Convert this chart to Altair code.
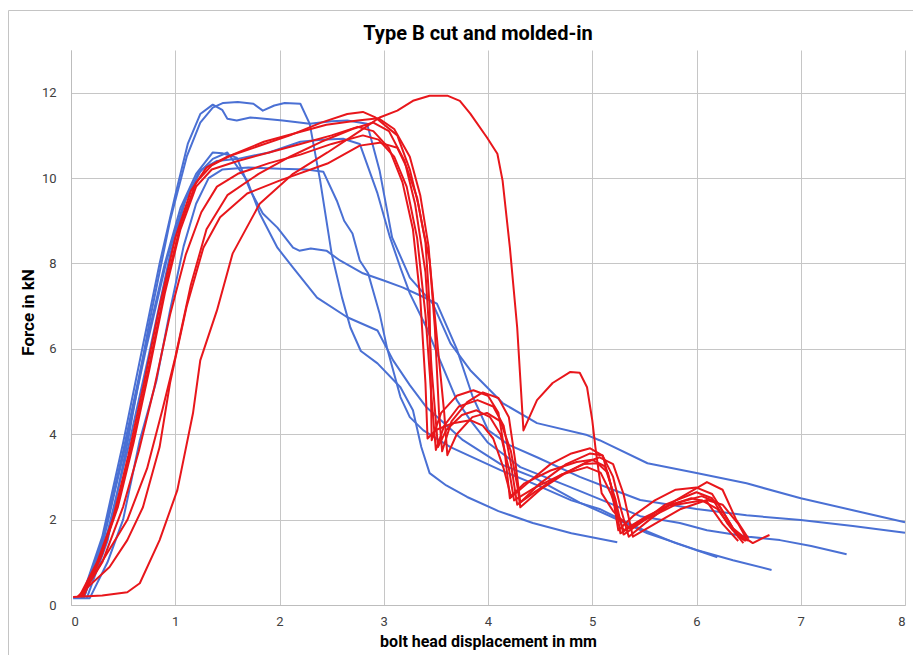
import altair as alt
import pandas as pd

# ---------------- data ----------------
# blue curves
ba_x = [0.10, 0.30, 0.50, 0.70, 0.85, 1.00, 1.12, 1.24, 1.36, 1.45, 1.50, 1.59, 1.72, 2.03, 2.29, 2.50, 2.65, 2.84, 2.96, 3.08, 3.25, 3.47, 3.64, 3.83, 4.14, 4.47, 4.95, 5.07, 5.53, 6.00, 6.48, 7.00, 7.50, 8.00]
ba_y = [0.15, 1.60, 3.80, 6.20, 8.00, 9.60, 10.80, 11.50, 11.72, 11.60, 11.39, 11.35, 11.42, 11.35, 11.27, 11.33, 11.35, 11.27, 10.18, 8.61, 7.67, 7.06, 6.13, 5.50, 4.73, 4.26, 3.98, 3.86, 3.32, 3.09, 2.85, 2.50, 2.22, 1.94]

bd_x = [0.12, 0.35, 0.55, 0.75, 0.95, 1.10, 1.25, 1.40, 1.60, 1.90, 2.20, 2.40, 2.61, 2.77, 2.94, 3.06, 3.16, 3.25, 3.41, 3.54, 3.70, 3.83, 4.00, 4.31, 4.79, 5.20, 5.46, 5.84, 6.10, 6.50, 6.80, 7.10, 7.44]
bd_y = [0.15, 1.70, 3.70, 5.90, 8.20, 9.50, 10.20, 10.40, 10.45, 10.60, 10.85, 10.90, 10.92, 10.80, 9.64, 8.61, 7.90, 7.30, 6.50, 5.73, 4.80, 4.33, 3.80, 3.23, 2.76, 2.35, 2.08, 1.92, 1.75, 1.60, 1.52, 1.38, 1.19]

bw_x = [0.10, 0.30, 0.50, 0.70, 0.90, 1.05, 1.20, 1.36, 1.45, 1.59, 1.72, 1.84, 1.98, 2.13, 2.19, 2.30, 2.45, 2.58, 2.80, 3.00, 3.18, 3.35, 3.51, 3.70, 3.85, 4.00, 4.20, 4.47, 4.88, 5.20, 5.46, 6.00, 6.48, 7.00, 7.50, 8.00]
bw_y = [0.15, 1.50, 3.60, 5.90, 8.00, 9.30, 10.10, 10.60, 10.58, 10.48, 9.71, 9.17, 8.84, 8.37, 8.30, 8.35, 8.30, 8.07, 7.77, 7.60, 7.44, 7.25, 7.06, 6.00, 4.90, 4.10, 3.75, 3.46, 3.00, 2.70, 2.46, 2.25, 2.10, 1.99, 1.85, 1.69]

bf_x = [0.12, 0.32, 0.52, 0.72, 0.92, 1.08, 1.22, 1.36, 1.50, 1.69, 1.81, 1.98, 2.13, 2.36, 2.65, 2.94, 3.09, 3.25, 3.41, 3.76, 4.12, 4.43, 4.88, 5.20, 5.53, 6.00, 6.35, 6.72]
bf_y = [0.15, 1.60, 3.70, 6.00, 8.10, 9.40, 10.10, 10.45, 10.60, 9.94, 9.17, 8.37, 7.90, 7.20, 6.74, 6.43, 5.73, 5.15, 4.63, 3.86, 3.30, 3.00, 2.40, 2.05, 1.68, 1.29, 1.05, 0.82]

bc_x = [0.02, 0.18, 0.35, 0.50, 0.66, 0.82, 0.95, 1.08, 1.20, 1.32, 1.45, 1.70, 2.00, 2.26, 2.42, 2.55, 2.62, 2.70, 2.77, 2.85, 2.96, 3.03, 3.16, 3.25, 3.38, 3.64, 4.12, 4.43, 4.80, 5.07, 5.40, 5.80, 6.20]
bc_y = [0.16, 0.16, 1.00, 2.00, 3.86, 5.26, 6.90, 8.40, 9.40, 10.00, 10.20, 10.25, 10.22, 10.20, 10.15, 9.47, 9.00, 8.70, 8.07, 7.77, 6.83, 6.04, 4.87, 4.40, 4.09, 3.70, 3.16, 2.85, 2.45, 2.25, 1.85, 1.45, 1.12]

bb_x = [0.15, 0.35, 0.55, 0.75, 0.95, 1.11, 1.24, 1.36, 1.46, 1.60, 1.75, 1.84, 1.95, 2.05, 2.20, 2.29, 2.39, 2.50, 2.60, 2.68, 2.78, 2.94, 3.16, 3.28, 3.36, 3.44, 3.60, 3.80, 4.10, 4.43, 4.80, 5.24]
bb_y = [0.15, 1.50, 3.90, 6.60, 9.00, 10.50, 11.30, 11.65, 11.76, 11.78, 11.74, 11.58, 11.70, 11.76, 11.74, 11.27, 9.94, 8.23, 7.20, 6.50, 5.95, 5.66, 5.10, 4.56, 3.70, 3.09, 2.80, 2.53, 2.20, 1.92, 1.68, 1.47]

# red curves
r1_x = [0.08, 0.25, 0.40, 0.55, 0.70, 0.85, 1.00, 1.15, 1.30, 1.50, 1.80, 2.10, 2.40, 2.65, 2.80, 2.92, 3.13, 3.25, 3.33, 3.40, 3.44, 3.46, 3.55, 3.70, 3.86, 4.00, 4.10, 4.16, 4.21, 4.40, 4.60, 4.80, 4.98, 5.10, 5.18, 5.25, 5.40, 5.60, 5.80, 6.00, 6.15, 6.30, 6.40, 6.47]
r1_y = [0.20, 1.00, 2.00, 3.50, 5.20, 7.00, 8.60, 9.70, 10.25, 10.50, 10.75, 11.00, 11.30, 11.50, 11.55, 11.42, 11.00, 10.20, 9.40, 8.50, 7.00, 3.86, 4.50, 4.90, 5.03, 4.90, 4.50, 3.60, 2.50, 2.90, 3.30, 3.55, 3.67, 3.50, 2.80, 1.75, 2.10, 2.45, 2.70, 2.75, 2.60, 2.00, 1.60, 1.50]

r2_x = [0.06, 0.37, 0.54, 0.69, 0.85, 0.95, 1.11, 1.27, 1.43, 1.69, 2.00, 2.46, 2.77, 2.96, 3.13, 3.22, 3.32, 3.38, 3.44, 3.52, 3.58, 3.61, 3.70, 3.85, 3.99, 4.12, 4.22, 4.28, 4.31, 4.50, 4.75, 4.95, 5.07, 5.20, 5.30, 5.39, 5.60, 5.85, 6.10, 6.25, 6.40, 6.48, 6.54, 6.62, 6.70]
r2_y = [0.19, 0.89, 1.52, 2.29, 3.70, 5.20, 7.00, 8.37, 9.08, 9.64, 9.94, 10.34, 10.76, 10.83, 10.71, 10.25, 9.54, 8.77, 8.07, 6.00, 4.50, 3.51, 4.00, 4.40, 4.50, 4.30, 3.60, 2.80, 2.29, 2.70, 3.10, 3.35, 3.46, 3.30, 2.60, 1.60, 1.90, 2.25, 2.46, 2.35, 1.90, 1.55, 1.45, 1.55, 1.64]

r3_x = [0.15, 0.54, 0.73, 0.88, 1.00, 1.15, 1.30, 1.50, 1.80, 2.10, 2.40, 2.70, 2.90, 3.05, 3.20, 3.30, 3.40, 3.46, 3.52, 3.60, 3.75, 3.89, 4.02, 4.12, 4.20, 4.25, 4.45, 4.70, 4.95, 5.08, 5.18, 5.30, 5.50, 5.75, 6.05, 6.20, 6.35, 6.50]
r3_y = [0.42, 1.99, 3.20, 4.60, 5.80, 7.50, 8.80, 9.60, 10.10, 10.50, 10.85, 11.15, 11.30, 11.10, 10.40, 9.40, 7.80, 5.50, 3.70, 4.10, 4.45, 4.56, 4.40, 4.00, 3.20, 2.45, 2.75, 3.05, 3.23, 3.10, 2.60, 1.75, 2.05, 2.35, 2.55, 2.40, 1.80, 1.50]

r4_x = [0.10, 0.28, 0.45, 0.60, 0.75, 0.90, 1.05, 1.20, 1.35, 1.60, 1.90, 2.20, 2.50, 2.75, 2.90, 3.05, 3.18, 3.28, 3.35, 3.40, 3.42, 3.50, 3.65, 3.83, 3.95, 4.05, 4.15, 4.22, 4.35, 4.60, 4.85, 5.00, 5.12, 5.22, 5.30, 5.45, 5.70, 6.00, 6.15, 6.30, 6.45]
r4_y = [0.20, 1.10, 2.30, 3.80, 5.50, 7.30, 8.80, 9.80, 10.20, 10.40, 10.60, 10.80, 11.00, 11.20, 11.10, 10.70, 9.90, 8.80, 7.20, 5.20, 3.90, 4.10, 4.25, 4.33, 4.20, 3.90, 3.20, 2.55, 2.85, 3.15, 3.35, 3.40, 3.25, 2.50, 1.65, 1.90, 2.35, 2.64, 2.50, 1.90, 1.45]

r5_x = [0.10, 0.30, 0.50, 0.65, 0.80, 0.95, 1.10, 1.25, 1.40, 1.60, 1.90, 2.20, 2.50, 2.80, 2.95, 3.10, 3.22, 3.32, 3.40, 3.46, 3.50, 3.58, 3.72, 3.90, 4.05, 4.15, 4.22, 4.28, 4.45, 4.70, 4.92, 5.05, 5.15, 5.22, 5.27, 5.45, 5.70, 5.95, 6.10, 6.25, 6.40]
r5_y = [0.20, 1.00, 2.30, 3.60, 5.10, 6.80, 8.20, 9.20, 9.80, 10.10, 10.35, 10.55, 10.80, 11.00, 10.90, 10.50, 9.80, 8.60, 6.80, 4.80, 3.63, 4.20, 4.65, 4.80, 4.65, 4.20, 3.30, 2.35, 2.65, 3.05, 3.30, 3.32, 3.10, 2.40, 1.68, 1.95, 2.30, 2.50, 2.42, 1.90, 1.50]

r6_x = [0.12, 0.30, 0.45, 0.60, 0.75, 0.90, 1.05, 1.20, 1.35, 1.55, 1.85, 2.15, 2.45, 2.75, 2.95, 3.10, 3.25, 3.35, 3.43, 3.49, 3.53, 3.56, 3.65, 3.80, 3.95, 4.10, 4.20, 4.26, 4.31, 4.50, 4.75, 4.98, 5.10, 5.20, 5.28, 5.35, 5.55, 5.80, 6.10, 6.25, 6.38, 6.50]
r6_y = [0.20, 1.20, 2.40, 3.90, 5.60, 7.40, 8.90, 9.90, 10.30, 10.55, 10.85, 11.05, 11.25, 11.35, 11.40, 11.15, 10.50, 9.60, 8.40, 6.50, 4.50, 3.60, 4.30, 4.75, 4.98, 4.85, 4.40, 3.40, 2.40, 2.85, 3.30, 3.55, 3.50, 3.00, 2.20, 1.60, 2.00, 2.45, 2.88, 2.70, 2.00, 1.55]

rl_x = [0.02, 0.30, 0.54, 0.66, 0.85, 1.02, 1.17, 1.24, 1.40, 1.55, 1.81, 2.13, 2.46, 2.77, 2.96, 3.13, 3.28, 3.44, 3.61, 3.73, 3.83, 3.99, 4.09, 4.14, 4.21, 4.28, 4.34, 4.47, 4.62, 4.79, 4.88, 4.95, 5.00, 5.03, 5.09, 5.20, 5.36, 5.55, 5.80, 6.05, 6.20, 6.35, 6.48]
rl_y = [0.19, 0.22, 0.30, 0.51, 1.52, 2.69, 4.49, 5.73, 6.90, 8.23, 9.40, 10.10, 10.60, 11.10, 11.42, 11.58, 11.81, 11.93, 11.93, 11.81, 11.51, 10.95, 10.57, 9.94, 8.37, 6.50, 4.09, 4.80, 5.20, 5.46, 5.44, 5.10, 4.33, 3.70, 2.62, 2.20, 1.80, 2.05, 2.35, 2.45, 2.25, 1.75, 1.50]

blue_curves = {"b1": (ba_x, ba_y), "b2": (bd_x, bd_y), "b3": (bw_x, bw_y),
               "b4": (bf_x, bf_y), "b5": (bc_x, bc_y), "b6": (bb_x, bb_y)}
red_curves = {"r1": (r1_x, r1_y), "r2": (r2_x, r2_y), "r3": (r3_x, r3_y),
              "r4": (r4_x, r4_y), "r5": (r5_x, r5_y), "r6": (r6_x, r6_y),
              "r7": (rl_x, rl_y)}

x_ticks = [0, 1, 2, 3, 4, 5, 6, 7, 8]
y_ticks = [0, 2, 4, 6, 8, 10, 12]


def to_frame(curves):
    rows = []
    for name, (xs, ys) in curves.items():
        for i, (xv, yv) in enumerate(zip(xs, ys)):
            rows.append({"curve": name, "i": i, "x": xv, "y": yv})
    return pd.DataFrame(rows)


blue_df = to_frame(blue_curves)
red_df = to_frame(red_curves)

FONT = "Roboto"

x_enc = alt.X("x:Q", scale=alt.Scale(domain=[0, 8], nice=False),
              axis=alt.Axis(values=x_ticks, title="bolt head displacement in mm", format="d",
                            titleFontSize=16))
y_enc = alt.Y("y:Q", scale=alt.Scale(domain=[0, 13], nice=False),
              axis=alt.Axis(values=y_ticks, title="Force in kN", format="d",
                            titleFontSize=17, titleY=262))

# thin grey frame around the whole chart (decoration, like the spreadsheet chart area border)
frame = alt.Chart(pd.DataFrame({"k": [0]})).mark_rect(
    fill=None, stroke="#c4c4c4", strokeWidth=1, clip=False
).encode(x=alt.value(-62.5), x2=alt.value(900), y=alt.value(-39.5), y2=alt.value(700))

blue = alt.Chart(blue_df).mark_line(color="#4a70d4", strokeWidth=2, strokeJoin="round").encode(
    x=x_enc, y=y_enc, detail="curve:N", order="i:Q")
red = alt.Chart(red_df).mark_line(color="#e8161b", strokeWidth=2, strokeJoin="round").encode(
    x=x_enc, y=y_enc, detail="curve:N", order="i:Q")

chart = alt.layer(frame, blue, red).properties(
    width=834, height=555,
    title=alt.Title("Type B cut and molded-in", fontSize=20, fontWeight="bold", font=FONT,
                    color="#000000", offset=0, dy=34, anchor="middle", dx=-10, frame="group"),
    autosize=alt.AutoSizeParams(type="none"),
    padding={"left": 63, "top": 42, "right": 8, "bottom": 50},
    background="white",
).configure_axis(
    grid=True, gridColor="#c6c6c6", gridWidth=1, domainColor="#bdbdbd", domainWidth=1,
    tickSize=0, labelFont=FONT, labelFontSize=13, labelColor="#404040",
    titleFont=FONT, titleFontWeight="bold", titleColor="#000000",
).configure_axisX(labelPadding=10, titlePadding=5).configure_axisY(
    labelPadding=15, titlePadding=4
).configure_view(stroke=None)

chart.save("out.html", embed_options={"renderer": "svg", "actions": False})
